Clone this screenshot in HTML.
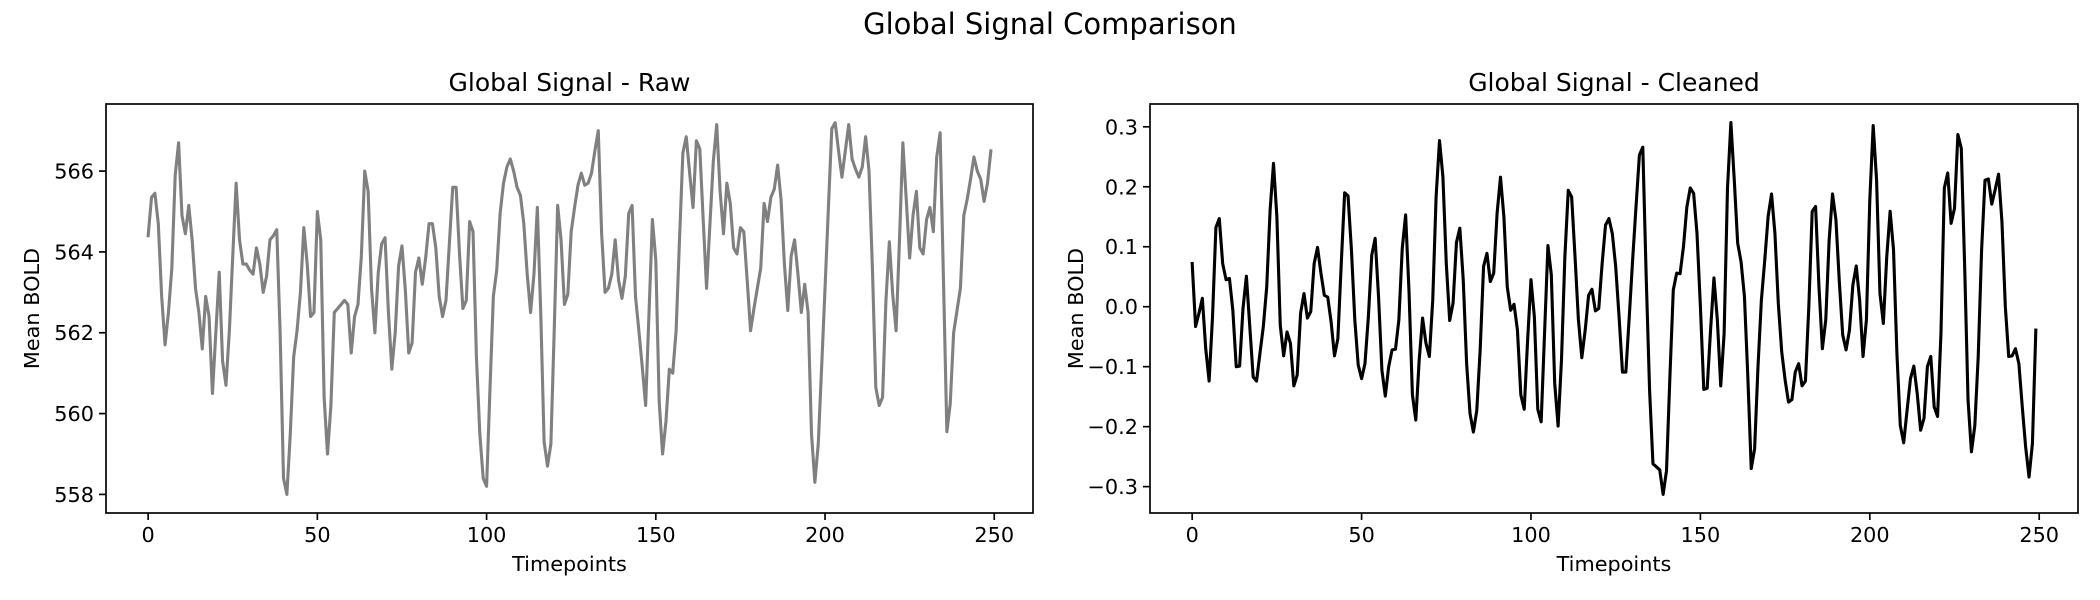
<!DOCTYPE html>
<html><head><meta charset="utf-8"><style>
html,body{margin:0;padding:0;background:#fff;}
svg{display:block;font-family:"DejaVu Sans","Liberation Sans",sans-serif;}
</style></head><body>
<svg id="fig" width="2100" height="600" viewBox="0 0 2100 600">
<text x="1050" y="34" font-size="29" text-anchor="middle" fill="#000">Global Signal Comparison</text>
<g id="plots"></g>
</svg>
<script>
const rawValues = [564.4,565.35,565.45,564.7,562.9,561.7,562.5,563.6,565.9,566.7,564.9,564.45,565.15,564.3,563.1,562.5,561.6,562.9,562.4,560.5,562.0,563.5,561.3,560.7,562.05,563.9,565.7,564.3,563.7,563.7,563.55,563.45,564.1,563.7,563.0,563.4,564.3,564.4,564.55,562.0,558.4,558.0,559.5,561.4,562.05,563.0,564.6,563.7,562.4,562.5,565.0,564.3,560.4,559.0,560.2,562.5,562.6,562.7,562.8,562.7,561.5,562.4,562.7,563.9,566.0,565.5,563.1,562.0,563.5,564.2,564.35,562.5,561.1,562.0,563.65,564.15,563.05,561.5,561.75,563.5,563.85,563.2,563.85,564.7,564.7,564.1,562.9,562.4,562.8,564.2,565.6,565.6,563.95,562.6,562.8,564.75,564.5,561.4,559.5,558.4,558.2,560.6,562.9,563.55,564.95,565.7,566.1,566.3,566.0,565.6,565.4,564.7,563.45,562.5,563.45,565.1,562.5,559.3,558.7,559.25,562.1,565.15,564.3,562.7,562.95,564.5,565.1,565.65,565.95,565.65,565.7,565.95,566.5,567.0,564.45,563.0,563.1,563.45,564.3,563.3,562.85,563.4,564.95,565.15,562.9,562.05,561.15,560.2,562.5,564.8,563.8,560.3,559.0,559.8,561.1,561.0,562.05,564.3,566.45,566.85,565.95,565.1,566.75,566.55,564.8,563.1,564.7,566.25,567.15,565.5,564.45,565.7,565.2,564.1,563.95,564.6,564.5,563.3,562.05,562.6,563.1,563.6,565.2,564.75,565.35,565.55,566.15,565.3,563.7,562.55,563.9,564.3,563.45,562.5,563.2,562.5,559.5,558.3,559.25,561.15,563.1,565.1,567.05,567.2,566.5,565.85,566.5,567.15,566.3,566.05,565.85,566.1,566.85,566.0,563.6,560.65,560.2,560.4,562.8,564.25,562.95,562.05,564.3,566.7,565.3,563.85,564.9,565.5,564.1,563.95,564.8,565.1,564.5,566.35,566.95,563.3,559.55,560.25,562.0,562.55,563.1,564.9,565.3,565.8,566.35,566.0,565.8,565.25,565.7,566.5];
const cleanValues = [0.072,-0.033,-0.011,0.014,-0.07,-0.124,-0.017,0.132,0.147,0.072,0.045,0.047,-0.006,-0.1,-0.099,-0.003,0.051,-0.033,-0.117,-0.124,-0.078,-0.033,0.033,0.161,0.239,0.15,-0.031,-0.082,-0.042,-0.061,-0.132,-0.114,-0.011,0.022,-0.019,-0.008,0.072,0.099,0.056,0.019,0.016,-0.025,-0.082,-0.053,0.072,0.19,0.185,0.095,-0.022,-0.097,-0.12,-0.095,-0.017,0.086,0.114,0.017,-0.106,-0.149,-0.1,-0.072,-0.071,-0.022,0.097,0.153,0.025,-0.147,-0.189,-0.089,-0.019,-0.061,-0.083,0.011,0.184,0.277,0.217,0.072,-0.023,0.006,0.107,0.131,0.045,-0.095,-0.178,-0.209,-0.173,-0.072,0.067,0.089,0.042,0.056,0.156,0.216,0.15,0.033,-0.006,0.004,-0.039,-0.147,-0.171,-0.056,0.045,-0.017,-0.171,-0.192,-0.045,0.102,0.053,-0.128,-0.199,-0.089,0.083,0.194,0.183,0.083,-0.022,-0.085,-0.039,0.019,0.029,-0.007,-0.003,0.072,0.136,0.147,0.122,0.067,-0.017,-0.109,-0.109,-0.017,0.078,0.167,0.253,0.266,0.05,-0.139,-0.262,-0.267,-0.272,-0.313,-0.273,-0.117,0.028,0.056,0.055,0.1,0.166,0.198,0.189,0.122,0,-0.138,-0.136,-0.039,0.048,-0.022,-0.132,-0.045,0.198,0.307,0.211,0.106,0.075,0.017,-0.117,-0.27,-0.237,-0.1,0.011,0.078,0.151,0.188,0.122,0.005,-0.075,-0.122,-0.159,-0.155,-0.109,-0.095,-0.132,-0.124,0,0.159,0.167,0.033,-0.07,-0.022,0.111,0.188,0.145,0.042,-0.047,-0.072,-0.039,0.036,0.068,0.011,-0.083,-0.022,0.178,0.302,0.211,0.022,-0.028,0.083,0.159,0.095,-0.078,-0.198,-0.227,-0.173,-0.12,-0.099,-0.145,-0.206,-0.186,-0.1,-0.083,-0.167,-0.183,-0.045,0.198,0.223,0.139,0.164,0.287,0.264,0.067,-0.156,-0.242,-0.198,-0.083,0.095,0.211,0.213,0.171,0.195,0.221,0.142,0,-0.083,-0.082,-0.07,-0.095,-0.167,-0.234,-0.284,-0.228,-0.039];
const xTicks = [0,50,100,150,200,250];
const rawYTicks = [558,560,562,564,566];
const rawYLabels = ["558","560","562","564","566"];
const cleanYTicks = [-0.3,-0.2,-0.1,0.0,0.1,0.2,0.3];
const cleanYLabels = ["\u22120.3","\u22120.2","\u22120.1","0.0","0.1","0.2","0.3"];
const titles = ["Global Signal - Raw","Global Signal - Cleaned"];

const NS = "http://www.w3.org/2000/svg";
const root = document.getElementById('plots');
function mk(tag, attrs, parent){const e=document.createElementNS(NS,tag);for(const k in attrs)e.setAttribute(k,attrs[k]);parent.appendChild(e);return e;}

function drawPanel(key, L, R, T, B, vals, yTicks, yLabels, title, color){
  const g = mk('g',{},root);
  
  
  const n = vals.length;
  const xmin = -0.05*(n-1), xmax = (n-1)*1.05;
  let mn=Math.min(...vals), mx=Math.max(...vals), pad=(mx-mn)*0.05;
  const ymin=mn-pad, ymax=mx+pad;
  const sx = v => L + (v-xmin)/(xmax-xmin)*(R-L);
  const sy = v => B - (v-ymin)/(ymax-ymin)*(B-T);
  let d = vals.map((v,i)=>(i?'L':'M')+sx(i).toFixed(2)+' '+sy(v).toFixed(2)).join(' ');
  const line = mk('path',{d:d,fill:'none',stroke:color,'stroke-width':3.1,'stroke-linejoin':'round','stroke-linecap':'square'},g);
  
  
  const frame = mk('rect',{x:L,y:T,width:R-L,height:B-T,fill:'none',stroke:'#000','stroke-width':1.67},g);
  
  
  xTicks.forEach(t=>{
    const x=sx(t);
    mk('line',{x1:x,x2:x,y1:B,y2:B+7,stroke:'#000','stroke-width':1.67},g);
    const tx = mk('text',{x:x,y:B+29,'font-size':20.8,'text-anchor':'middle'},g);
    tx.textContent=String(t);
    
    
  });
  yTicks.forEach((t,i)=>{
    const y=sy(t);
    mk('line',{x1:L-7,x2:L,y1:y,y2:y,stroke:'#000','stroke-width':1.67},g);
    const tx = mk('text',{x:L-12,y:y+7.5,'font-size':20.8,'text-anchor':'end'},g);
    tx.textContent=yLabels[i];
    
    
  });
  const tt = mk('text',{x:(L+R)/2,y:T-13,'font-size':25,'text-anchor':'middle'},g);
  tt.textContent=title;
  
  
  const xl = mk('text',{x:(L+R)/2,y:571,'font-size':20.8,'text-anchor':'middle'},g);
  xl.textContent='Timepoints';
  
  
  const yl = mk('text',{x:0,y:0,'font-size':20.8,'text-anchor':'middle',transform:'translate('+(L-67)+','+((T+B)/2)+') rotate(-90)'},g);
  yl.textContent='Mean BOLD';
  
  
}
drawPanel('raw',106,1033,104,513,rawValues,rawYTicks,rawYLabels,titles[0],'#808080');
drawPanel('cleaned',1150,2078,104,513,cleanValues,cleanYTicks,cleanYLabels,titles[1],'#000000');
</script>
</body></html>
